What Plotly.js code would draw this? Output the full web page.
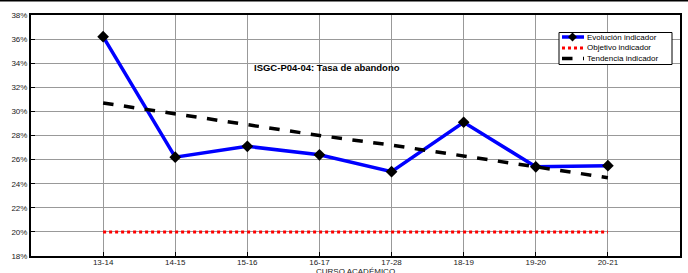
<!DOCTYPE html>
<html><head><meta charset="utf-8">
<script src="https://cdn.plot.ly/plotly-3.0.1.min.js"></script>
<style>html,body{margin:0;padding:0;background:#fff}#chart{width:688px;height:273px}</style>
</head><body><div id="chart"></div>
<script>
const cursos = ["13-14","14-15","15-16","16-17","17-28","18-19","19-20","20-21"];
const evolucion = [36.2, 26.2, 27.1, 26.4, 25.0, 29.1, 25.4, 25.5];
const objetivo = [20, 20, 20, 20, 20, 20, 20, 20];
const tendencia = [30.7, 29.8, 28.9, 28.0, 27.2, 26.3, 25.4, 24.5];
const yTicks = [18,20,22,24,26,28,30,32,34,36,38];
const yTickText = ["18%","20%","22%","24%","26%","28%","30%","32%","34%","36%","38%"];
const seriesNames = ["Evolución indicador", "Objetivo indicador", "Tendencia indicador"];

const F = "Liberation Sans, Arial, sans-serif";
const L = 31, R = 8, T = 15, B = 17, W = 688, H = 273;
const pw = W - L - R, ph = H - T - B;
const px = x => (x - L) / pw;
const py = y => 1 - (y - T) / ph;

const styles = [
  {line: {color: "#0000ff", width: 3.5}},
  {line: {color: "#ff0000", width: 3, dash: "dot"}},
  {line: {color: "#000", width: 3.5, dash: "dash"}}
];
const traces = [
  {x: cursos, y: evolucion, name: seriesNames[0], type: "scatter", mode: "lines+markers",
   line: styles[0].line, marker: {symbol: "diamond", color: "#000", size: 9}, showlegend: false},
  {x: cursos, y: objetivo, name: seriesNames[1], type: "scatter", mode: "lines",
   line: styles[1].line, showlegend: false},
  {x: cursos, y: tendencia, name: seriesNames[2], type: "scatter", mode: "lines",
   line: styles[2].line, showlegend: false}
];

// manual compact legend (reference entries are only 11px apart)
const shapes = [
  {type: "line", xref: "paper", yref: "paper", x0: -L / pw, x1: (W - L) / pw,
   y0: py(0.5), y1: py(0.5), line: {color: "#000", width: 2}},
  {type: "rect", xref: "paper", yref: "paper", x0: px(559), x1: px(672), y0: py(32.5), y1: py(64.5),
   fillcolor: "#fff", line: {color: "#000", width: 1}, layer: "above"}
];
const annotations = [
  {text: "<b>ISGC-P04-04: Tasa de abandono</b>", xref: "paper", yref: "paper",
   x: px(252), y: py(67), xanchor: "left", yanchor: "middle", showarrow: false,
   font: {family: F, size: 9.5, color: "#000"}},
  {text: "CURSO ACADÉMICO", xref: "paper", yref: "paper",
   x: 0.5, y: py(271), xanchor: "center", yanchor: "middle", showarrow: false,
   font: {family: F, size: 8, color: "#222"}}
];
const rowY = [37, 48, 58.5];
seriesNames.forEach((n, i) => {
  shapes.push({type: "line", xref: "paper", yref: "paper", x0: px(562), x1: px(584),
    y0: py(rowY[i]), y1: py(rowY[i]), line: styles[i].line, layer: "above"});
  annotations.push({text: n, xref: "paper", yref: "paper", x: px(585), y: py(rowY[i]),
    xanchor: "left", yanchor: "middle", showarrow: false, font: {family: F, size: 8, color: "#000"}});
});
const dx = 572.5, dy = rowY[0];
shapes.push({type: "path", xref: "paper", yref: "paper", layer: "above",
  path: `M ${px(dx)} ${py(dy - 4.5)} L ${px(dx + 4.5)} ${py(dy)} L ${px(dx)} ${py(dy + 4.5)} L ${px(dx - 4.5)} ${py(dy)} Z`,
  fillcolor: "#000", line: {color: "#000", width: 0}});

const layout = {
  width: W, height: H, margin: {l: L, r: R, t: T, b: B},
  paper_bgcolor: "#fff", plot_bgcolor: "#fff",
  font: {family: F, size: 8, color: "#222"},
  showlegend: false,
  xaxis: {type: "category", range: [-1, 8], showgrid: true, gridcolor: "#999", gridwidth: 1,
          showline: true, linecolor: "#000", linewidth: 2, mirror: true,
          ticks: "inside", ticklen: 4, tickcolor: "#000", ticklabelstandoff: -3,
          tickfont: {family: F, size: 8, color: "#222"}, zeroline: false, fixedrange: true},
  yaxis: {range: [18, 38], tickvals: yTicks, ticktext: yTickText, showgrid: true, gridcolor: "#999", gridwidth: 1,
          showline: true, linecolor: "#000", linewidth: 2, mirror: true,
          ticks: "inside", ticklen: 4, tickcolor: "#000",
          tickfont: {family: F, size: 8, color: "#222"}, zeroline: false, fixedrange: true},
  annotations: annotations,
  shapes: shapes
};
Plotly.newPlot("chart", traces, layout, {displayModeBar: false, staticPlot: true});
</script></body></html>
